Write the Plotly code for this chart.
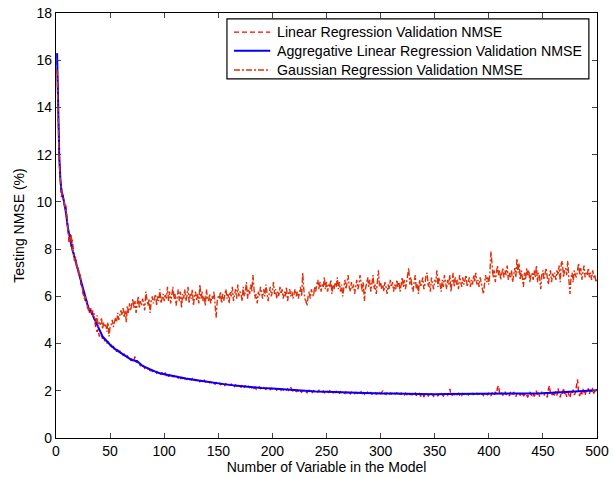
import plotly.graph_objects as go

# Datos (una muestra por numero de variables, 1..500)
n_vars = list(range(1, 501))

linear_nmse = [
    16.0, 13.5, 11.8, 10.9, 10.2, 10.4, 10.0, 9.8, 9.9, 9.3,
    8.6, 8.3, 8.7, 8.1, 8.4, 7.8, 7.6, 7.6, 7.3, 7.2,
    7.1, 6.9, 6.5, 6.5, 6.1, 6.1, 5.8, 5.9, 5.5, 5.6,
    5.3, 5.5, 5.2, 5.4, 5.0, 4.9, 4.6, 4.5, 4.6, 4.3,
    4.4, 4.35, 4.2, 4.3, 4.1, 4.15, 4.0, 4.1, 3.95, 3.9,
    3.95, 3.8, 3.9, 3.75, 3.8, 3.65, 3.75, 3.6, 3.7, 3.55,
    3.6, 3.5, 3.55, 3.45, 3.4, 3.5, 3.35, 3.4, 3.3, 3.35,
    3.25, 3.3, 3.45, 3.2, 3.25, 3.15, 3.2, 3.05, 3.1, 3.0,
    3.05, 2.95, 3.0, 2.9, 2.95, 2.9, 2.85, 2.95, 2.8, 2.85,
    2.8, 2.85, 2.75, 2.8, 2.7, 2.75, 2.7, 2.78, 2.65, 2.72,
    2.75, 2.65, 2.7, 2.6, 2.68, 2.62, 2.7, 2.58, 2.64, 2.6,
    2.55, 2.62, 2.52, 2.6, 2.5, 2.58, 2.48, 2.55, 2.5, 2.52,
    2.48, 2.55, 2.45, 2.5, 2.46, 2.52, 2.42, 2.48, 2.44, 2.46,
    2.4, 2.47, 2.38, 2.44, 2.42, 2.36, 2.45, 2.38, 2.4, 2.35,
    2.42, 2.34, 2.38, 2.3, 2.36, 2.32, 2.28, 2.35, 2.3, 2.27,
    2.32, 2.26, 2.3, 2.24, 2.28, 2.22, 2.3, 2.25, 2.2, 2.27,
    2.23, 2.28, 2.2, 2.25, 2.18, 2.24, 2.2, 2.16, 2.23, 2.19,
    2.15, 2.22, 2.28, 2.14, 2.2, 2.16, 2.12, 2.19, 2.14, 2.17,
    2.12, 2.18, 2.1, 2.15, 2.07, 2.14, 2.11, 2.16, 2.09, 2.13,
    2.08, 2.14, 2.1, 2.06, 2.13, 2.09, 2.12, 2.05, 2.1, 2.08,
    2.11, 2.06, 2.09, 2.03, 2.08, 2.05, 2.1, 2.02, 2.07, 2.04,
    2.0, 2.06, 2.03, 2.08, 2.01, 2.05, 2.15, 2.02, 1.99, 2.04,
    2.01, 1.97, 2.03, 1.95, 2.02, 1.99, 1.94, 2.01, 1.97, 2.0,
    1.96, 1.92, 1.99, 2.02, 1.95, 1.98, 1.93, 2.0, 1.96, 1.94,
    1.99, 1.95, 2.02, 1.93, 1.97, 1.95, 1.99, 1.92, 1.98, 1.94,
    1.97, 1.93, 2.0, 1.94, 1.96, 1.91, 1.97, 1.93, 1.98, 1.92,
    1.95, 1.9, 1.96, 1.89, 1.94, 1.92, 1.88, 1.95, 1.91, 1.97,
    1.92, 1.87, 1.94, 1.9, 1.95, 1.88, 1.93, 1.9, 1.86, 1.94,
    1.9, 1.96, 1.88, 1.92, 1.85, 1.91, 1.89, 1.94, 1.87, 1.9,
    1.93, 1.86, 1.9, 1.88, 1.95, 1.86, 1.91, 1.84, 1.92, 1.88,
    1.94, 1.99, 1.87, 1.9, 1.85, 1.92, 1.88, 1.83, 1.9, 1.86,
    1.92, 1.84, 1.89, 1.87, 1.93, 1.82, 1.88, 1.85, 1.9, 1.84,
    1.88, 1.83, 1.9, 1.85, 1.8, 1.89, 1.84, 1.87, 1.82, 1.88,
    1.85, 1.9, 1.79, 1.86, 1.83, 1.88, 1.76, 1.84, 1.87, 1.74,
    1.86, 1.81, 1.88, 1.78, 1.84, 1.8, 1.87, 1.82, 1.77, 1.85,
    1.81, 1.86, 1.79, 1.84, 1.8, 1.88, 1.83, 1.78, 1.86, 1.82,
    1.87, 1.81, 1.9, 2.08, 1.84, 1.8, 1.88, 1.83, 1.86, 1.79,
    1.85, 1.89, 1.82, 1.87, 1.8, 1.88, 1.84, 1.9, 1.83, 1.86,
    1.82, 1.88, 1.85, 1.79, 1.9, 1.84, 1.87, 1.81, 1.89, 1.85,
    1.88, 1.82, 1.9, 1.86, 1.8, 1.92, 1.85, 1.88, 1.83, 1.9,
    1.84, 1.78, 1.92, 1.86, 1.8, 1.95, 1.88, 2.12, 2.22, 1.9,
    1.85, 1.92, 1.8, 1.88, 1.96, 1.83, 1.9, 1.86, 1.78, 1.92,
    1.87, 1.82, 1.95, 1.86, 1.75, 1.9, 1.84, 1.92, 1.8, 1.88,
    1.93, 1.78, 1.86, 1.9, 1.82, 1.72, 1.88, 1.95, 1.84, 1.8,
    1.9, 1.76, 1.86, 2.0, 1.8, 1.92, 1.74, 1.88, 1.96, 1.82,
    1.78, 1.94, 1.85, 1.72, 2.05, 2.22, 1.86, 1.8, 1.92, 1.75,
    1.88, 1.98, 1.8, 2.1, 1.85, 1.72, 1.95, 1.88, 2.12, 1.82,
    1.9, 1.75, 1.96, 1.86, 1.7, 1.95, 1.88, 2.05, 1.82, 1.92,
    2.3, 2.48, 1.9, 1.78, 2.0, 1.85, 2.08, 1.92, 1.8, 2.02,
    1.95, 2.1, 1.86, 2.04, 1.92, 2.12, 1.88, 2.0, 1.95, 2.08,
]

gaussian_nmse = [
    15.6, 13.2, 11.6, 11.0, 10.4, 10.2, 10.1, 9.9, 9.6, 9.4,
    8.8, 8.5, 8.3, 8.6, 8.0, 7.9, 7.5, 7.7, 7.2, 7.3,
    6.9, 7.0, 6.6, 6.4, 6.2, 5.9, 6.0, 5.7, 5.6, 5.4,
    5.5, 5.3, 5.4, 5.1, 5.3, 5.0, 4.9, 5.2, 4.7, 4.9,
    4.8, 5.1, 4.6, 4.9, 4.7, 4.8, 4.5, 4.9, 4.3, 4.7,
    4.8, 5.0, 4.7, 4.9, 5.1, 4.9, 5.3, 5.0, 5.2, 5.4,
    5.2, 5.5, 5.1, 5.4, 4.9, 5.6, 5.3, 5.7, 5.4, 5.6,
    5.9, 5.5, 5.8, 5.3, 5.7, 6.0, 5.5, 5.8, 5.6, 5.9,
    5.7, 5.4, 6.2, 5.8, 5.6, 5.9, 5.3, 5.8, 6.0, 5.7,
    5.9, 6.1, 5.6, 6.0, 5.8, 6.3, 5.7, 5.9, 6.1, 5.8,
    6.1, 5.9, 6.4, 5.8, 6.2, 5.7, 6.0, 6.4, 5.9, 6.1,
    5.6, 6.0, 6.3, 5.8, 6.2, 5.5, 6.1, 5.9, 6.3, 5.8,
    6.0, 6.4, 5.7, 6.1, 5.9, 6.3, 5.6, 6.0, 6.2, 5.8,
    6.1, 5.7, 6.5, 5.9, 6.2, 5.8, 6.0, 5.6, 6.3, 5.9,
    5.8, 6.1, 5.7, 6.0, 5.9, 6.2, 5.4, 5.1, 5.8, 6.0,
    5.9, 6.2, 5.7, 6.1, 5.8, 6.0, 6.3, 5.9, 6.1, 5.7,
    6.2, 6.0, 6.4, 5.8, 6.1, 6.3, 5.9, 6.5, 6.0, 6.2,
    6.1, 5.8, 6.4, 6.0, 6.2, 6.6, 5.9, 6.3, 6.1, 6.5,
    6.2, 6.9, 6.3, 5.9, 6.1, 5.7, 6.2, 6.0, 6.4, 6.1,
    5.9, 6.3, 6.0, 6.5, 6.2, 5.8, 6.1, 6.4, 6.0, 6.2,
    6.6, 6.1, 6.3, 5.9, 6.2, 6.0, 6.4, 6.1, 6.3, 5.9,
    6.2, 6.0, 6.4, 5.8, 6.1, 6.3, 6.0, 6.2, 5.9, 6.1,
    6.3, 6.0, 6.2, 5.9, 6.1, 6.4, 6.0, 7.0, 6.3, 5.9,
    5.8, 5.6, 6.0, 6.2, 5.9, 6.3, 6.1, 6.0, 6.4, 6.2,
    6.5, 6.7, 6.3, 6.6, 6.2, 6.5, 6.4, 6.8, 6.3, 6.6,
    6.2, 6.5, 6.4, 6.7, 6.1, 6.5, 6.3, 6.6, 6.4, 6.8,
    6.3, 6.6, 6.2, 6.5, 6.0, 6.4, 6.7, 6.3, 6.6, 6.9,
    6.4, 6.2, 6.6, 6.3, 6.5, 6.1, 6.4, 6.7, 6.3, 6.5,
    6.9, 6.4, 6.2, 6.6, 5.8, 6.3, 6.5, 6.8, 6.4, 6.7,
    6.2, 6.6, 6.9, 6.3, 6.5, 6.1, 6.7, 7.1, 6.4, 6.6,
    6.3, 6.5, 6.2, 6.6, 6.4, 6.1, 6.5, 6.3, 6.7, 6.4,
    6.6, 6.2, 6.5, 6.3, 6.7, 6.4, 6.6, 6.2, 6.5, 6.8,
    6.4, 6.7, 6.3, 6.6, 6.9, 7.2, 6.5, 6.8, 6.4, 6.2,
    6.6, 6.9, 6.3, 6.5, 6.1, 6.7, 6.4, 6.6, 6.8, 6.3,
    6.5, 6.9, 7.0, 6.4, 6.6, 6.2, 6.8, 6.5, 6.3, 6.7,
    6.6, 7.1, 6.4, 6.8, 6.5, 6.2, 6.7, 6.4, 6.9, 6.6,
    6.3, 6.7, 6.5, 6.9, 6.2, 6.6, 7.0, 6.4, 6.8, 6.5,
    6.7, 6.3, 6.9, 6.6, 6.4, 6.8, 6.5, 6.7, 6.9, 6.4,
    6.6, 6.8, 6.4, 6.7, 6.5, 6.9, 6.6, 7.0, 6.5, 6.7,
    6.4, 6.8, 6.6, 6.3, 6.1, 6.5, 6.9, 6.6, 6.8, 6.5,
    7.0, 7.9, 7.2, 6.8, 7.1, 6.6, 7.0, 7.3, 6.9, 7.1,
    6.7, 7.0, 7.2, 6.8, 7.1, 6.9, 7.3, 6.7, 7.0, 6.8,
    7.1, 6.6, 6.9, 7.2, 6.8, 7.6, 7.0, 7.4, 6.7, 7.1,
    6.8, 6.4, 7.0, 6.7, 7.2, 6.9, 7.1, 6.6, 6.9, 7.0,
    6.7, 7.1, 6.8, 7.3, 6.6, 7.0, 6.8, 6.3, 6.9, 7.1,
    6.7, 7.0, 7.2, 6.8, 6.5, 6.9, 7.1, 6.6, 7.0, 6.8,
    7.0, 6.7, 7.1, 6.9, 7.3, 6.6, 7.4, 7.5, 6.8, 7.1,
    7.2, 6.9, 7.5, 6.7, 6.1, 6.8, 7.0, 6.6, 7.1, 6.9,
    6.8, 7.1, 7.4, 6.9, 7.2, 6.7, 7.0, 7.3, 6.8, 7.0,
    6.9, 7.2, 6.8, 7.0, 6.7, 7.1, 6.8, 6.9, 6.6, 6.7,
]

x_agg = [1, 2, 3, 4, 5, 7, 9, 11, 13, 15, 18, 21, 24, 27, 30, 33, 36, 40, 43, 46,
         50, 55, 60, 65, 70, 75, 80, 85, 90, 95, 100, 110, 120, 130, 140, 150,
         160, 170, 180, 190, 200, 210, 220, 230, 240, 250, 260, 270, 280, 290,
         300, 310, 320, 330, 340, 350, 360, 370, 380, 390, 400, 410, 420, 430,
         440, 450, 460, 470, 480, 490, 500]
aggregative_nmse = [16.3, 14.0, 12.0, 11.0, 10.5, 10.1, 9.6, 8.9, 8.4, 8.0, 7.5, 7.0,
                    6.4, 5.9, 5.5, 5.3, 5.0, 4.6, 4.3, 4.15, 3.95, 3.75, 3.6, 3.45,
                    3.3, 3.25, 3.05, 2.95, 2.85, 2.75, 2.7, 2.6, 2.52, 2.45, 2.38,
                    2.3, 2.25, 2.2, 2.15, 2.12, 2.1, 2.06, 2.02, 1.99, 1.97, 1.96,
                    1.94, 1.93, 1.92, 1.9, 1.89, 1.88, 1.87, 1.86, 1.84, 1.85, 1.86,
                    1.86, 1.87, 1.87, 1.88, 1.89, 1.88, 1.88, 1.89, 1.9, 1.92, 1.94,
                    1.96, 1.98, 2.02]

x_ticks = list(range(0, 501, 50))
y_ticks = list(range(0, 19, 2))

series_names = ['Linear Regression Validation NMSE',
                'Aggregative Linear Regression Validation NMSE',
                'Gaussian Regression Validation NMSE']
styles = [dict(color='#ff0000', width=1.4, dash='5px,3px'),
          dict(color='#0000ff', width=2),
          dict(color='#e0300a', width=1.4, dash='6px,2px,2px,2px')]

fig = go.Figure()

for xs, ys, name, st in zip([n_vars, x_agg, n_vars],
                            [linear_nmse, aggregative_nmse, gaussian_nmse],
                            series_names, styles):
    fig.add_trace(go.Scatter(x=xs, y=ys, mode='lines', name=name,
                             line=st, showlegend=False))

# leyenda dibujada a mano (estilo matlab, filas mas juntas)
fig.add_shape(type='rect', xref='paper', yref='paper',
              x0=0.316, x1=0.985, y0=0.845, y1=0.986,
              line=dict(color='black', width=1.2), fillcolor='white')
row_y = [0.955, 0.911, 0.866]
for yy, name, st in zip(row_y, series_names, styles):
    fig.add_shape(type='line', xref='paper', yref='paper',
                  x0=0.329, x1=0.396, y0=yy, y1=yy, line=st)
    fig.add_annotation(x=0.405, y=yy, xref='paper', yref='paper', text=name,
                       showarrow=False, xanchor='left', yanchor='middle',
                       font=dict(size=14.2))

fig.update_layout(
    width=613, height=479,
    margin=dict(l=56, r=16, t=13, b=41),
    plot_bgcolor='white', paper_bgcolor='white',
    font=dict(family='Liberation Sans, Arial, sans-serif', size=14, color='black'),
    showlegend=False,
)

fig.update_xaxes(
    range=[0, 500], tickvals=x_ticks, ticks='inside', ticklen=5,
    showline=True, linecolor='black', linewidth=1.2, mirror='ticks',
    showgrid=False, zeroline=False, automargin=False,
    tickfont=dict(size=14),
    title=dict(text='Number of Variable in the Model', font=dict(size=14), standoff=4),
)
fig.update_yaxes(
    range=[0, 18], tickvals=y_ticks, ticks='inside', ticklen=5,
    showline=True, linecolor='black', linewidth=1.2, mirror='ticks',
    showgrid=False, zeroline=False, automargin=False,
    tickfont=dict(size=14),
    title=dict(text='Testing NMSE (%)', font=dict(size=14), standoff=8),
)

# quitar el margen por defecto del body para que la figura quede en (0, 0)
fig.write_html("out.html", config={'displayModeBar': False},
               post_script="document.body.style.margin = '0px';")
